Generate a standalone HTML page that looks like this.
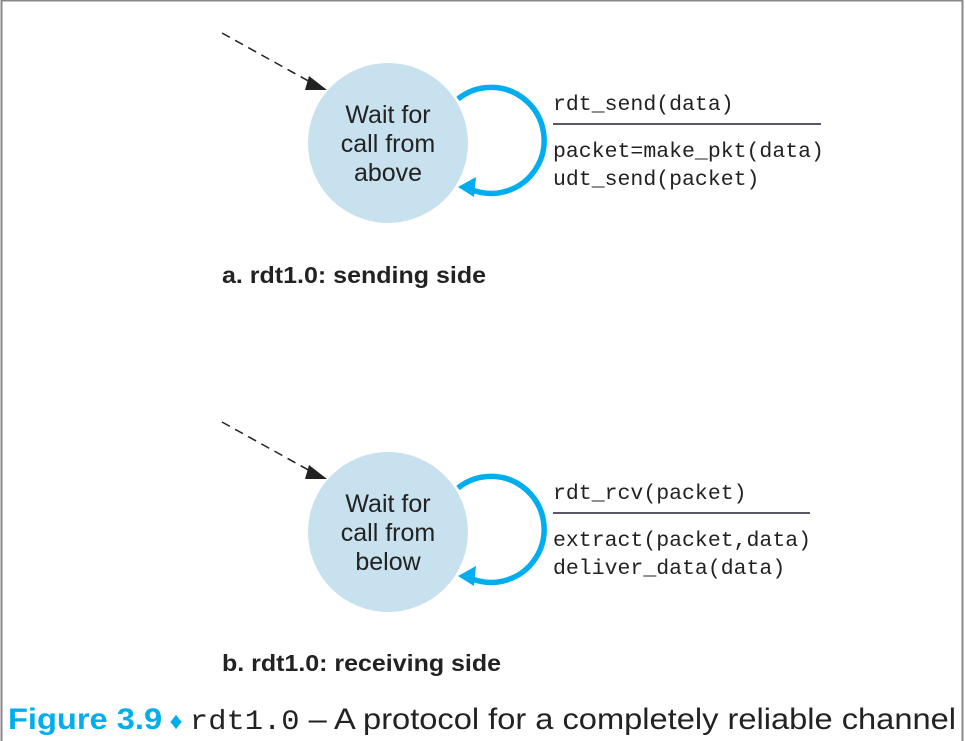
<!DOCTYPE html>
<html><head><style>
html,body{margin:0;padding:0;background:#fff}
body{width:965px;height:741px;overflow:hidden;position:relative}
</style></head><body>
<svg width="965" height="741" viewBox="0 0 965 741" xmlns="http://www.w3.org/2000/svg" style="position:absolute;left:0;top:0">
<rect x="1.5" y="0.5" width="961" height="750" fill="none" stroke="#888" stroke-width="2"/>
<g id="top">
<line x1="222" y1="33" x2="312" y2="83" stroke="#222" stroke-width="1.5" stroke-dasharray="9,6"/>
<path d="M309,76 L327,90 L305,90 Z" fill="#222"/>
<circle cx="388" cy="143" r="80" fill="#c8e1ee"/>
<text font-family="Liberation Sans, sans-serif" font-size="25" fill="#222" text-anchor="middle"><tspan x="388" y="123">Wait for</tspan><tspan x="388" y="152">call from</tspan><tspan x="388" y="181">above</tspan></text>
<path d="M458,99 A53,53 0 1 1 470,189" fill="none" stroke="#00aeef" stroke-width="5.5"/>
<path d="M458,187 L476,177 L474,197 Z" fill="#00aeef"/>
<text font-family="Liberation Mono, monospace" font-size="21.5" fill="#222"><tspan x="553" y="110">rdt_send(data)</tspan><tspan x="553" y="157">packet=make_pkt(data)</tspan><tspan x="553" y="185">udt_send(packet)</tspan></text>
<line x1="553" y1="124" x2="821" y2="124" stroke="#223" stroke-width="1.5"/>
<text x="222" y="283" font-family="Liberation Sans, sans-serif" font-size="23" font-weight="bold" fill="#222" textLength="264" lengthAdjust="spacingAndGlyphs">a.  rdt1.0: sending side</text>
</g>
<g transform="translate(0,389)">
<line x1="222" y1="33" x2="312" y2="83" stroke="#222" stroke-width="1.5" stroke-dasharray="9,6"/>
<path d="M309,76 L327,90 L305,90 Z" fill="#222"/>
<circle cx="388" cy="143" r="80" fill="#c8e1ee"/>
<text font-family="Liberation Sans, sans-serif" font-size="25" fill="#222" text-anchor="middle"><tspan x="388" y="123">Wait for</tspan><tspan x="388" y="152">call from</tspan><tspan x="388" y="181">below</tspan></text>
<path d="M458,99 A53,53 0 1 1 470,189" fill="none" stroke="#00aeef" stroke-width="5.5"/>
<path d="M458,187 L476,177 L474,197 Z" fill="#00aeef"/>
<text font-family="Liberation Mono, monospace" font-size="21.5" fill="#222"><tspan x="553" y="110">rdt_rcv(packet)</tspan><tspan x="553" y="157">extract(packet,data)</tspan><tspan x="553" y="185">deliver_data(data)</tspan></text>
<line x1="553" y1="124" x2="810" y2="124" stroke="#223" stroke-width="1.5"/>
<text x="222" y="282" font-family="Liberation Sans, sans-serif" font-size="23" font-weight="bold" fill="#222" textLength="279" lengthAdjust="spacingAndGlyphs">b.  rdt1.0: receiving side</text>
</g>
<text x="8" y="729" font-size="30" fill="#222" textLength="948" lengthAdjust="spacingAndGlyphs"><tspan font-family="Liberation Sans, sans-serif" font-weight="bold" fill="#00aeef">Figure 3.9</tspan><tspan font-family="Liberation Sans, sans-serif" fill="#00aeef" font-size="24"> ♦ </tspan><tspan font-family="Liberation Mono, monospace" font-size="28">rdt1.0</tspan><tspan font-family="Liberation Sans, sans-serif"> – A protocol for a completely reliable channel</tspan></text>
</svg>
</body></html>
